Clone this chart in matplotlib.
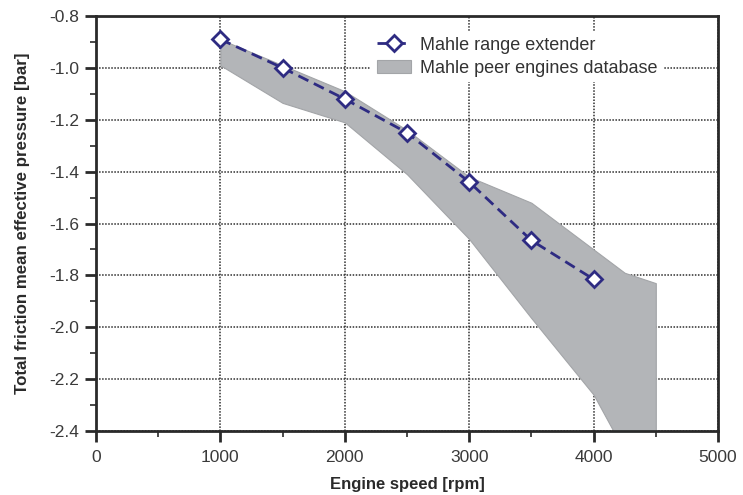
import matplotlib
matplotlib.use("Agg")
import matplotlib.pyplot as plt
from matplotlib.ticker import MultipleLocator

plt.rcParams['font.family'] = ['Liberation Sans', 'DejaVu Sans']

# Mahle range extender
speed = [1000, 1500, 2000, 2500, 3000, 3500, 4000]
fmep = [-0.89, -1.00, -1.12, -1.25, -1.44, -1.665, -1.815]

# peer engines database band
band_speed = [1000, 1500, 2000, 2500, 3000, 3500, 4000, 4250, 4500]
band_upper = [-0.89, -0.99, -1.09, -1.24, -1.42, -1.52, -1.70, -1.79, -1.83]
band_lower = [-0.99, -1.135, -1.21, -1.41, -1.66, -1.965, -2.26, -2.48, -2.70]

xticks = [0, 1000, 2000, 3000, 4000, 5000]
yticks = [-0.8, -1.0, -1.2, -1.4, -1.6, -1.8, -2.0, -2.2, -2.4]

ink = '#2a2a2a'
fig = plt.figure(figsize=(7.43, 4.95), dpi=100)
ax = fig.add_axes([96/743, 1-431/495, 622/743, 415/495])

band = ax.fill_between(band_speed, band_lower, band_upper, color='#b3b5b8',
                       edgecolor='#a3a5a8', linewidth=0.8, zorder=2,
                       label='Mahle peer engines database')
line, = ax.plot(speed, fmep, color='#2e2b82', linestyle=(0, (4, 2.2)), linewidth=2,
                marker='D', markersize=8.5, markerfacecolor='white',
                markeredgecolor='#2e2b82', markeredgewidth=2, zorder=4,
                label='Mahle range extender')

ax.set_xlim(0, 5000)
ax.set_ylim(-2.4, -0.8)
ax.set_xticks(xticks)
ax.set_yticks(yticks)
ax.set_yticklabels(['%.1f' % v for v in yticks])
ax.xaxis.set_minor_locator(MultipleLocator(500))
ax.yaxis.set_minor_locator(MultipleLocator(0.1))
ax.tick_params(which='major', direction='out', length=8, width=2, labelsize=12.5,
               colors=ink, labelcolor='#3a3a3a')
ax.tick_params(which='minor', direction='out', length=4, width=1.2, colors=ink)
ax.tick_params(axis='y', which='major', pad=4)
ax.tick_params(axis='x', which='major', pad=6)
for s in ax.spines.values():
    s.set_linewidth(2)
    s.set_color(ink)

ax.grid(True, which='major', linestyle=(0, (1, 1)), color='#2e2e2e', linewidth=1.1, zorder=1)
ax.set_axisbelow(True)

ax.set_xlabel('Engine speed [rpm]', fontsize=12, fontweight='bold', labelpad=8, color=ink)
ax.set_ylabel('Total friction mean effective pressure [bar]', fontsize=12.2,
              fontweight='bold', labelpad=14, color=ink)

leg = ax.legend([line, band], ['Mahle range extender', 'Mahle peer engines database'],
                loc='upper left', bbox_to_anchor=(0.428, 0.985), frameon=True,
                fontsize=13, handlelength=1.9, handletextpad=0.5,
                labelspacing=0.35, borderpad=0.3)
for t in leg.get_texts():
    t.set_color('#333333')
leg.get_frame().set_facecolor('white')
leg.get_frame().set_edgecolor('none')
leg.get_frame().set_alpha(1)

fig.savefig('out.png', dpi=100)
